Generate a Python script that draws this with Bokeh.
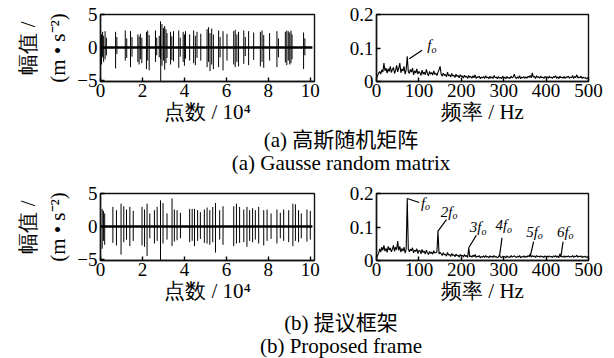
import numpy as np
from bokeh.plotting import figure
from bokeh.models import Range1d, FixedTicker, LinearAxis, CustomJSTickFormatter, Div, ColumnDataSource
from bokeh.layouts import column, row
from bokeh.embed import file_html
from bokeh.resources import INLINE
from bokeh.core.properties import value

# ---------------- data ----------------
# time signal (a): impulse positions (x 10^4 points), upper / lower extremes (m/s^2)
ta_x = [0.05, 0.10, 0.15, 0.22, 0.28, 0.72, 0.78, 1.18, 1.25, 1.43, 1.50, 1.78, 1.84, 1.90, 1.97,
        2.19, 2.25, 2.32, 2.62, 2.68, 2.80, 2.86, 2.87, 2.93, 3.00, 3.06, 3.12, 3.17, 3.34, 3.40,
        3.48, 3.73, 3.80, 3.94, 4.00, 4.05, 4.25, 4.44, 4.52, 4.60, 4.78, 5.08, 5.15, 5.22, 5.30,
        5.38, 5.63, 5.70, 5.84, 6.03, 6.35, 6.42, 6.50, 6.58, 6.83, 6.90, 7.06, 7.30, 7.62, 7.70,
        7.78, 8.06, 8.41, 8.48, 8.81, 8.88, 8.95, 9.02, 9.08, 9.13, 9.68, 9.74]
ta_hi = [2.0, 2.4, 1.8, 2.5, 1.5, 2.4, 1.6, 2.6, 1.4, 2.5, 1.6, 2.0, 1.7, 2.1, 1.5,
         2.4, 2.6, 1.9, 2.6, 1.5, 1.8, 4.0, 0.5, 3.6, 3.0, 3.3, 2.8, 2.2, 2.4, 1.7,
         2.5, 2.6, 1.5, 2.4, 2.0, 2.5, 2.0, 2.6, 1.8, 2.4, 2.1, 2.8, 3.1, 2.2, 2.9,
         2.0, 2.6, 1.6, 2.5, 2.1, 2.5, 2.7, 2.0, 2.4, 2.6, 1.6, 2.5, 2.3, 2.4, 2.6,
         1.9, 2.2, 2.5, 1.4, 2.4, 2.6, 2.5, 2.3, 2.6, 2.0, 2.3, 1.4]
ta_lo = [-2.6, -1.5, -2.2, -1.8, -1.2, -3.2, -1.0, -2.0, -1.6, -3.0, -1.4, -2.2, -2.6, -1.8, -2.4,
         -3.3, -2.0, -3.5, -2.2, -1.2, -1.5, -1.8, -5.2, -2.8, -2.0, -3.4, -2.4, -1.6, -2.6, -1.9,
         -2.1, -3.1, -1.4, -2.2, -2.8, -1.7, -2.0, -2.4, -2.7, -1.6, -2.0, -3.0, -2.2, -3.6, -2.6,
         -3.3, -3.0, -1.5, -3.5, -2.0, -2.6, -3.0, -2.2, -2.9, -2.5, -1.3, -2.7, -1.9, -2.9, -2.2,
         -3.1, -2.0, -3.0, -1.5, -2.3, -2.7, -2.0, -2.6, -2.4, -1.8, -3.3, -1.2]

# time signal (b)
tb_x = [0.08, 0.14, 0.20, 0.59, 0.76, 0.98, 1.11, 1.24, 1.40, 1.56, 1.98, 2.10, 2.22, 2.35, 2.57,
        2.70, 2.86, 2.98, 3.17, 3.41, 3.52, 3.65, 3.81, 4.25, 4.37, 4.48, 4.63, 4.76, 4.95, 5.08,
        5.21, 5.35, 5.48, 5.68, 5.84, 6.35, 6.48, 6.63, 6.83, 6.98, 7.11, 7.25, 7.38, 7.54, 7.78,
        7.94, 8.13, 8.41, 8.57, 8.73, 8.97, 9.17, 9.29, 9.44, 9.57, 9.84, 10.0]
tb_hi = [2.7, 2.4, 2.0, 3.0, 2.5, 3.5, 3.1, 2.6, 3.0, 2.4, 3.0, 2.6, 3.5, 2.0, 2.5,
         3.0, 4.0, 3.6, 2.0, 4.3, 2.6, 2.5, 2.1, 2.7, 2.7, 2.7, 2.5, 2.2, 2.6, 2.9,
         2.5, 3.0, 3.6, 2.5, 3.1, 3.1, 3.5, 3.0, 2.6, 3.0, 2.5, 2.8, 2.5, 3.0, 2.5,
         2.6, 2.0, 2.6, 2.1, 2.6, 2.5, 3.5, 3.4, 2.5, 2.0, 2.6, 2.4]
tb_lo = [-3.4, -2.2, -2.8, -2.5, -2.9, -4.3, -2.4, -2.0, -3.0, -2.2, -2.9, -3.1, -4.5, -1.8, -2.6,
         -2.2, -5.2, -2.6, -2.0, -3.0, -2.3, -2.1, -1.8, -2.4, -2.2, -3.0, -2.2, -1.9, -2.5, -2.6,
         -2.8, -2.4, -4.0, -2.0, -2.8, -3.0, -2.6, -2.5, -2.4, -3.1, -2.2, -2.4, -2.0, -2.6, -2.9,
         -2.2, -1.9, -2.6, -1.8, -2.2, -2.4, -3.0, -2.2, -2.4, -1.8, -2.3, -2.0]

base_x = [0.0, 10.1]
base_y = [0.0, 0.0]

# spectra, 0-500 Hz every 2.5 Hz
freq = [i * 2.5 for i in range(201)]
spec_a = [0.010, 0.018, 0.025, 0.030, 0.022, 0.035, 0.028, 0.055, 0.032, 0.040, 0.025, 0.038, 0.030, 0.045, 0.027, 0.036, 0.042, 0.024, 0.033, 0.048, 0.029,
          0.040, 0.055, 0.026, 0.038, 0.031, 0.045, 0.022, 0.035, 0.075, 0.030, 0.024, 0.036, 0.028, 0.040, 0.020, 0.032, 0.025, 0.038, 0.022, 0.030,
          0.026, 0.018, 0.034, 0.022, 0.028, 0.020, 0.036, 0.024, 0.017, 0.030, 0.022, 0.027, 0.019, 0.032, 0.021, 0.025, 0.018, 0.028, 0.035, 0.045,
          0.022, 0.016, 0.025, 0.018, 0.021, 0.014, 0.028, 0.017, 0.020, 0.013, 0.024, 0.016, 0.019, 0.012, 0.022, 0.015, 0.018, 0.011, 0.020, 0.014,
          0.017, 0.010, 0.019, 0.013, 0.016, 0.009, 0.018, 0.012, 0.015, 0.010, 0.017, 0.011, 0.020, 0.009, 0.014, 0.012, 0.016, 0.008, 0.013, 0.011,
          0.015, 0.009, 0.017, 0.011, 0.013, 0.008, 0.016, 0.010, 0.014, 0.009, 0.018, 0.011, 0.013, 0.008, 0.015, 0.010, 0.012, 0.009, 0.016, 0.011,
          0.013, 0.008, 0.015, 0.010, 0.012, 0.009, 0.016, 0.011, 0.013, 0.022, 0.012, 0.009, 0.014, 0.010, 0.017, 0.008, 0.013, 0.011, 0.015, 0.009,
          0.014, 0.010, 0.016, 0.012, 0.018, 0.011, 0.026, 0.013, 0.015, 0.009, 0.017, 0.012, 0.014, 0.010, 0.016, 0.011, 0.013, 0.009, 0.015, 0.012,
          0.014, 0.010, 0.016, 0.011, 0.013, 0.009, 0.015, 0.012, 0.017, 0.010, 0.014, 0.008, 0.016, 0.011, 0.013, 0.010, 0.015, 0.009, 0.014, 0.012,
          0.016, 0.010, 0.013, 0.011, 0.018, 0.009, 0.015, 0.012, 0.020, 0.010, 0.014, 0.011, 0.016, 0.009, 0.013, 0.010, 0.012, 0.008, 0.011, 0.010]
spec_b = [0.008, 0.015, 0.022, 0.035, 0.025, 0.040, 0.030, 0.045, 0.028, 0.036, 0.024, 0.042, 0.031, 0.038, 0.026, 0.034, 0.045, 0.027, 0.040, 0.032, 0.058,
          0.030, 0.042, 0.025, 0.036, 0.028, 0.040, 0.022, 0.033, 0.185, 0.035, 0.026, 0.034, 0.029, 0.038, 0.023, 0.031, 0.027, 0.035, 0.021, 0.029,
          0.030, 0.020, 0.033, 0.024, 0.028, 0.019, 0.031, 0.023, 0.018, 0.027, 0.021, 0.025, 0.019, 0.029, 0.022, 0.024, 0.026, 0.088, 0.020, 0.024,
          0.020, 0.015, 0.023, 0.017, 0.019, 0.013, 0.024, 0.016, 0.018, 0.012, 0.021, 0.015, 0.017, 0.011, 0.019, 0.014, 0.016, 0.010, 0.018, 0.013,
          0.016, 0.010, 0.018, 0.012, 0.015, 0.009, 0.038, 0.011, 0.014, 0.010, 0.016, 0.011, 0.018, 0.009, 0.013, 0.011, 0.015, 0.008, 0.012, 0.010,
          0.014, 0.009, 0.015, 0.010, 0.012, 0.008, 0.014, 0.010, 0.013, 0.009, 0.015, 0.010, 0.012, 0.008, 0.011, 0.016, 0.010, 0.009, 0.013, 0.010,
          0.012, 0.008, 0.014, 0.010, 0.011, 0.009, 0.015, 0.010, 0.012, 0.014, 0.011, 0.009, 0.013, 0.010, 0.015, 0.008, 0.012, 0.010, 0.014, 0.009,
          0.013, 0.010, 0.015, 0.011, 0.020, 0.010, 0.014, 0.012, 0.013, 0.009, 0.015, 0.011, 0.013, 0.010, 0.014, 0.011, 0.012, 0.009, 0.014, 0.011,
          0.013, 0.010, 0.014, 0.011, 0.012, 0.009, 0.014, 0.011, 0.015, 0.010, 0.013, 0.008, 0.020, 0.011, 0.012, 0.010, 0.014, 0.009, 0.013, 0.011,
          0.014, 0.010, 0.012, 0.011, 0.015, 0.009, 0.013, 0.011, 0.016, 0.010, 0.013, 0.011, 0.014, 0.009, 0.012, 0.010, 0.013, 0.009, 0.011, 0.010]

# annotated peaks
pk_a_f = [77.5]
pk_a_v = [0.068]
pk_a_lab = ["f"]
pk_b_f = [72.5, 145.0, 217.5, 290.0, 362.5, 435.0]
pk_b_v = [0.185, 0.088, 0.038, 0.012, 0.012, 0.012]
pk_b_lab = ["f", "2f", "3f", "4f", "5f", "6f"]

time_ticks = [0, 2, 4, 6, 8, 10]
amp_ticks = [-5, 0, 5]
freq_ticks = [0, 100, 200, 300, 400, 500]
spec_ticks = [0, 0.1, 0.2]

# ---------------- styling ----------------
FONT = "Liberation Serif"
TICK_FS = "19px"
LAB_FS = "21px"
fmt = CustomJSTickFormatter(code="""
if (tick < 0) { return '\\u2212' + String(+(-tick).toFixed(2)); }
return String(+tick.toFixed(2));
""")


def style(p, xt, yt):
    p.outline_line_color = "#111111"
    p.outline_line_width = 1.4
    p.xgrid.visible = False
    p.ygrid.visible = False
    p.min_border = 0
    for ax in (p.xaxis[0], p.yaxis[0]):
        ax.axis_line_width = 1.4
        ax.axis_line_color = "#111111"
        ax.major_tick_in = 4
        ax.major_tick_out = 0
        ax.major_tick_line_width = 1.4
        ax.minor_tick_line_color = None
        ax.major_label_text_font = FONT
        ax.major_label_text_font_size = TICK_FS
        ax.major_label_text_color = "black"
        ax.axis_label_text_font = FONT
        ax.axis_label_text_font_size = LAB_FS
        ax.axis_label_text_font_style = "normal"
        ax.axis_label_text_color = "black"
        ax.formatter = fmt
    p.xaxis[0].ticker = FixedTicker(ticks=xt)
    p.yaxis[0].ticker = FixedTicker(ticks=yt)
    p.xaxis[0].major_label_standoff = 2
    p.yaxis[0].major_label_standoff = 3
    p.xaxis[0].axis_label_standoff = 0


def time_fig(xs, hi, lo, top, bottom):
    p = figure(frame_width=214, frame_height=67, output_backend="svg",
               toolbar_location=None, x_range=Range1d(0, 10.2), y_range=Range1d(-5.2, 5.05))
    style(p, time_ticks, amp_ticks)
    p.min_border_left = 100
    p.min_border_right = 26
    p.min_border_top = top
    p.min_border_bottom = bottom
    p.xaxis[0].axis_label = "点数 / 10\u2074"
    p.yaxis[0].axis_label = "(m \u2022 s\u207b\u00b2)"
    p.yaxis[0].axis_label_standoff = 4
    extra = LinearAxis(ticker=FixedTicker(ticks=[]), axis_line_color=None,
                       major_tick_line_color=None, minor_tick_line_color=None,
                       axis_label="幅值 /", axis_label_text_font=FONT,
                       axis_label_text_font_size=LAB_FS, axis_label_text_font_style="normal",
                       axis_label_text_color="black", axis_label_standoff=4)
    p.add_layout(extra, "left")
    src = ColumnDataSource(dict(x=xs, hi=hi, lo=lo))
    p.segment(x0="x", y0="lo", x1="x", y1="hi", source=src, line_color="black", line_width=1)
    p.line(base_x, base_y, line_color="black", line_width=2.5)
    return p


def spec_fig(spec, pf, pv, lab, dx, dy, lx, ly, top, bottom):
    p = figure(frame_width=212, frame_height=67, output_backend="svg",
               toolbar_location=None, x_range=Range1d(0, 500), y_range=Range1d(0, 0.2))
    style(p, freq_ticks, spec_ticks)
    p.min_border_left = 36
    p.min_border_right = 26
    p.min_border_top = top
    p.min_border_bottom = bottom
    p.xaxis[0].axis_label = "频率 / Hz"
    p.line(freq, spec, line_color="black", line_width=1.1)
    x1 = [f + d for f, d in zip(pf, dx)]
    y1 = [v + d for v, d in zip(pv, dy)]
    tx = [f + d for f, d in zip(pf, lx)]
    ty = [v + d for v, d in zip(pv, ly)]
    src = ColumnDataSource(dict(x0=pf, y0=pv, x1=x1, y1=y1, tx=tx, ty=ty, lab=lab,
                                sub=["o"] * len(lab)))
    p.segment(x0="x0", y0="y0", x1="x1", y1="y1", source=src, line_color="black", line_width=1.2)
    p.text(x="tx", y="ty", text="lab", source=src, text_font=value(FONT),
           text_font_style="italic", text_font_size="15px", text_align="right",
           text_baseline="middle", text_color="black")
    p.text(x="tx", y="ty", text="sub", source=src, text_font=value(FONT),
           text_font_style="italic", text_font_size="10px", text_align="left",
           text_baseline="middle", y_offset=4, text_color="black")
    return p


p1 = time_fig(ta_x, ta_hi, ta_lo, 14, 48)
p2 = spec_fig(spec_a, pk_a_f, pk_a_v, pk_a_lab, [30], [0.025], [52], [0.040], 14, 48)
p3 = time_fig(tb_x, tb_hi, tb_lo, 20, 48)
p4 = spec_fig(spec_b, pk_b_f, pk_b_v, pk_b_lab,
              [28, 20, 18, 6, 8, 5], [-0.012, 0.034, 0.037, 0.056, 0.044, 0.044],
              [42, 34, 30, 18, 18, 18], [-0.012, 0.058, 0.062, 0.093, 0.074, 0.074], 20, 48)

CAP = ("<div style=\"box-sizing:border-box;width:614px;padding-left:68px;text-align:center;"
       "font-family:'Liberation Serif','Noto Sans CJK SC';font-size:21px;line-height:23px;"
       "color:black;padding-top:%dpx;margin:0\">%s<br>%s</div>")
d1 = Div(text=CAP % (0, "(a) 高斯随机矩阵", "(a) Gausse random matrix"),
         width=614, height=44, margin=0)
d2 = Div(text=CAP % (4, "(b) 提议框架", "(b) Proposed frame"),
         width=614, height=49, margin=0)

layout = column(row(p1, p2, spacing=0), d1, row(p3, p4, spacing=0), d2, spacing=0)

open("out.html", "w").write(file_html(layout, INLINE))
